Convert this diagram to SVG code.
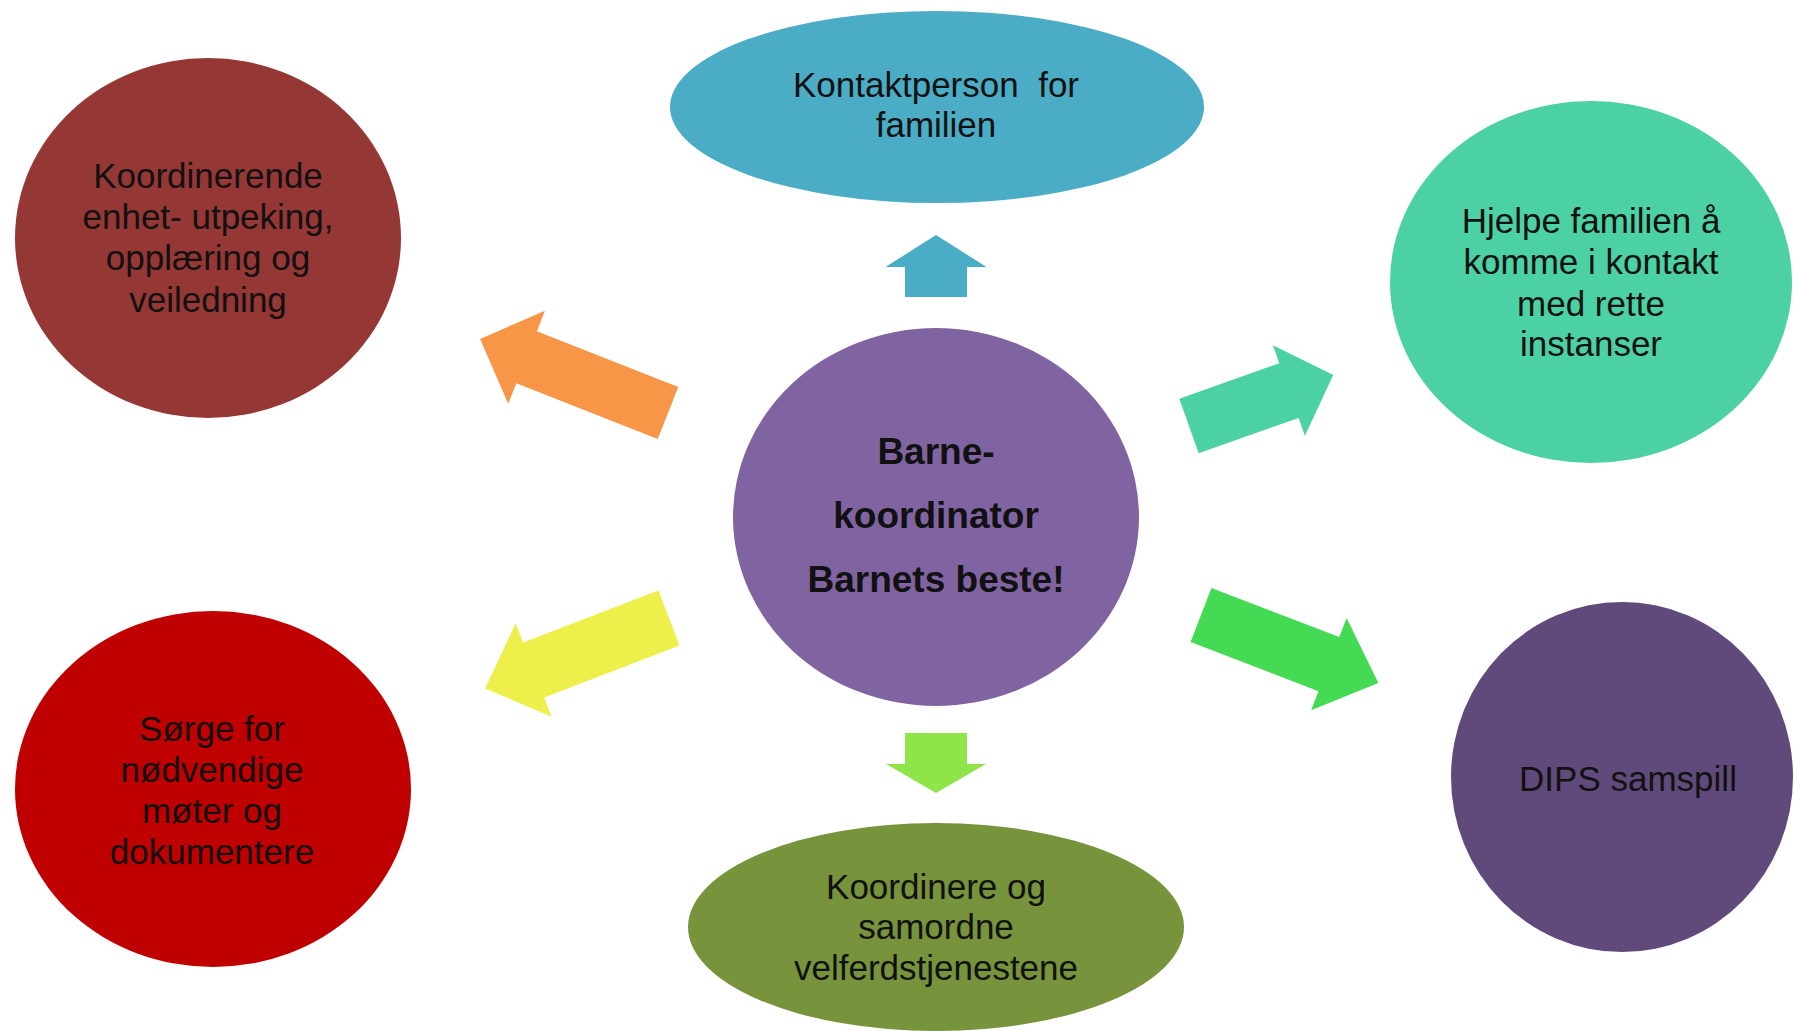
<svg xmlns="http://www.w3.org/2000/svg" width="1794" height="1031" viewBox="0 0 1794 1031">
<style>
.t{font-family:"Liberation Sans",Arial,sans-serif;font-size:35px;fill:#111;text-anchor:middle;dominant-baseline:central;white-space:pre}
.b{font-weight:bold;font-size:37px}
</style>
<rect width="1794" height="1031" fill="#fff"/>
<g id="connectors">
<g id="arrow-up" transform="translate(936,297) rotate(-90)"><polygon points="0,-31 30,-31 30,-50.5 62,0 30,50.5 30,31 0,31" fill="#4BACC6"/></g>
<g id="arrow-down" transform="translate(936,733) rotate(90)"><polygon points="0,-31 31,-31 31,-50 60,0 31,50 31,31 0,31" fill="#8FE449"/></g>
<g id="arrow-ul" transform="translate(668,413) rotate(201.5)"><polygon points="0,-28 152,-28 152,-50 202,0 152,50 152,28 0,28" fill="#F79646"/></g>
<g id="arrow-ur" transform="translate(1189,426) rotate(-19.5)"><polygon points="0,-29 106,-29 106,-48 153,0 106,48 106,29 0,29" fill="#4BD1A3"/></g>
<g id="arrow-ll" transform="translate(669,618) rotate(159)"><polygon points="0,-29.5 145,-29.5 145,-50 197,0 145,50 145,29.5 0,29.5" fill="#EDF04A"/></g>
<g id="arrow-lr" transform="translate(1201,615) rotate(21)"><polygon points="0,-29 137,-29 137,-49.5 190,0 137,49.5 137,29 0,29" fill="#45DA53"/></g>
</g>
<g id="node-koordinerende">
<ellipse cx="208" cy="238" rx="193" ry="180" fill="#953735"/>
<text class="t" x="208" y="175">Koordinerende</text>
<text class="t" x="208" y="216">enhet- utpeking,</text>
<text class="t" x="208" y="257">opplæring og</text>
<text class="t" x="208" y="299">veiledning</text>
</g>
<g id="node-kontaktperson">
<ellipse cx="937" cy="107" rx="267" ry="96" fill="#4BACC6"/>
<text class="t" x="936" y="84">Kontaktperson  for</text>
<text class="t" x="936" y="124">familien</text>
</g>
<g id="node-hjelpe">
<ellipse cx="1591" cy="282" rx="201" ry="181" fill="#4BD1A3"/>
<text class="t" x="1591" y="220">Hjelpe familien å</text>
<text class="t" x="1591" y="261">komme i kontakt</text>
<text class="t" x="1591" y="303">med rette</text>
<text class="t" x="1591" y="343">instanser</text>
</g>
<g id="node-center">
<ellipse cx="936" cy="517" rx="203" ry="189" fill="#8064A2"/>
<text class="t b" x="936" y="451">Barne-</text>
<text class="t b" x="936" y="515">koordinator</text>
<text class="t b" x="936" y="579">Barnets beste!</text>
</g>
<g id="node-sorge">
<ellipse cx="213" cy="789" rx="198" ry="178" fill="#C00000"/>
<text class="t" x="212" y="728">Sørge for</text>
<text class="t" x="212" y="769">nødvendige</text>
<text class="t" x="212" y="810">møter og</text>
<text class="t" x="212" y="851">dokumentere</text>
</g>
<g id="node-koordinere">
<ellipse cx="936" cy="927" rx="248" ry="104" fill="#77933C"/>
<text class="t" x="936" y="886">Koordinere og</text>
<text class="t" x="936" y="926">samordne</text>
<text class="t" x="936" y="967">velferdstjenestene</text>
</g>
<g id="node-dips">
<ellipse cx="1622" cy="777" rx="171" ry="175" fill="#604A7B"/>
<text class="t" x="1628" y="778">DIPS samspill</text>
</g>
</svg>
